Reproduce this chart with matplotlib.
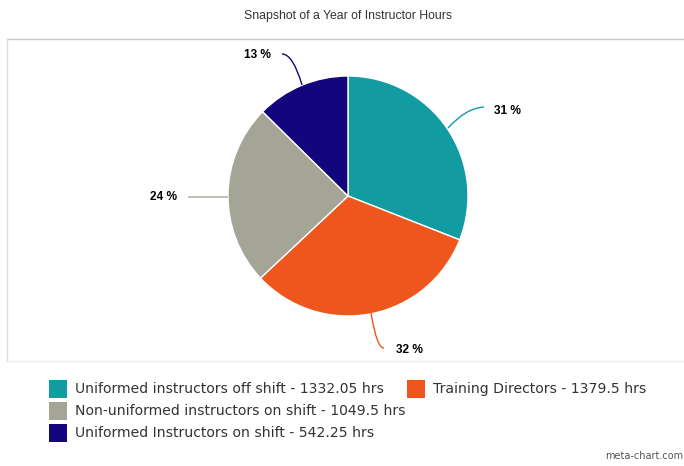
import matplotlib
matplotlib.use("Agg")
import matplotlib.pyplot as plt
from matplotlib.path import Path
from matplotlib.patches import PathPatch, Rectangle
from matplotlib.lines import Line2D

categories = ["Uniformed instructors off shift", "Training Directors",
              "Non-uniformed instructors on shift", "Uniformed Instructors on shift"]
hours = [1332.05, 1379.5, 1049.5, 542.25]
hour_labels = ["1332.05", "1379.5", "1049.5", "542.25"]
pct_labels = ["31 %", "32 %", "24 %", "13 %"]
colors = ["#129ca1", "#ee561d", "#a5a597", "#13057b"]

W, H = 684, 466
fig = plt.figure(figsize=(W / 100, H / 100), dpi=100)
ax = fig.add_axes([0, 0, 1, 1])

def Y(y):
    return H - y

# chart frame
ax.add_line(Line2D([7, W], [Y(39), Y(39)], color="#c8c8c8", lw=1))
ax.add_line(Line2D([7, 7], [Y(39), Y(361)], color="#dddddd", lw=1))
ax.add_line(Line2D([7, W], [Y(361), Y(361)], color="#ececec", lw=1))

ax.text(348, Y(16), "Snapshot of a Year of Instructor Hours", ha="center", va="center",
        fontsize=8.8, family="Liberation Sans", color="#333333")

ax.pie(hours, colors=colors, startangle=90, counterclock=False,
       center=(348, Y(196)), radius=120, frame=True,
       wedgeprops=dict(edgecolor="white", linewidth=1))
ax.set_xlim(0, W)
ax.set_ylim(0, H)
ax.set_aspect("equal")
ax.axis("off")

# connectors: start, control, end ; label position
conns = [
    ((448, 128), (466, 108), (484, 107), (494, 111)),
    ((371, 313), (377, 349), (384, 348), (396, 350)),
    ((228, 197), (208, 197), (188, 197), (150, 197)),
    ((302, 85), (293, 54), (282, 54), (244, 55)),
]
for (p0, p1, p2, lp), c, lab in zip(conns, colors, pct_labels):
    path = Path([(p0[0], Y(p0[1])), (p1[0], Y(p1[1])), (p2[0], Y(p2[1]))],
                [Path.MOVETO, Path.CURVE3, Path.CURVE3])
    ax.add_patch(PathPatch(path, fill=False, edgecolor=c, lw=1))
    ax.text(lp[0], Y(lp[1]), lab, ha="left", va="center", fontsize=8.6,
            fontweight="bold", family="Liberation Sans", color="#000000")

# legend
leg = [(49, 389, 0), (407, 389, 1), (49, 411, 2), (49, 433, 3)]
for x, y, i in leg:
    ax.add_patch(Rectangle((x, Y(y) - 9), 18, 18, facecolor=colors[i], edgecolor="none"))
    ax.text(x + 26, Y(y), f"{categories[i]} - {hour_labels[i]} hrs", ha="left", va="center",
            fontsize=10.1, family="DejaVu Sans", color="#333333")

ax.text(683, Y(456), "meta-chart.com", ha="right", va="center", fontsize=7,
        family="DejaVu Sans", color="#555555")

fig.savefig("out.png", dpi=100)
